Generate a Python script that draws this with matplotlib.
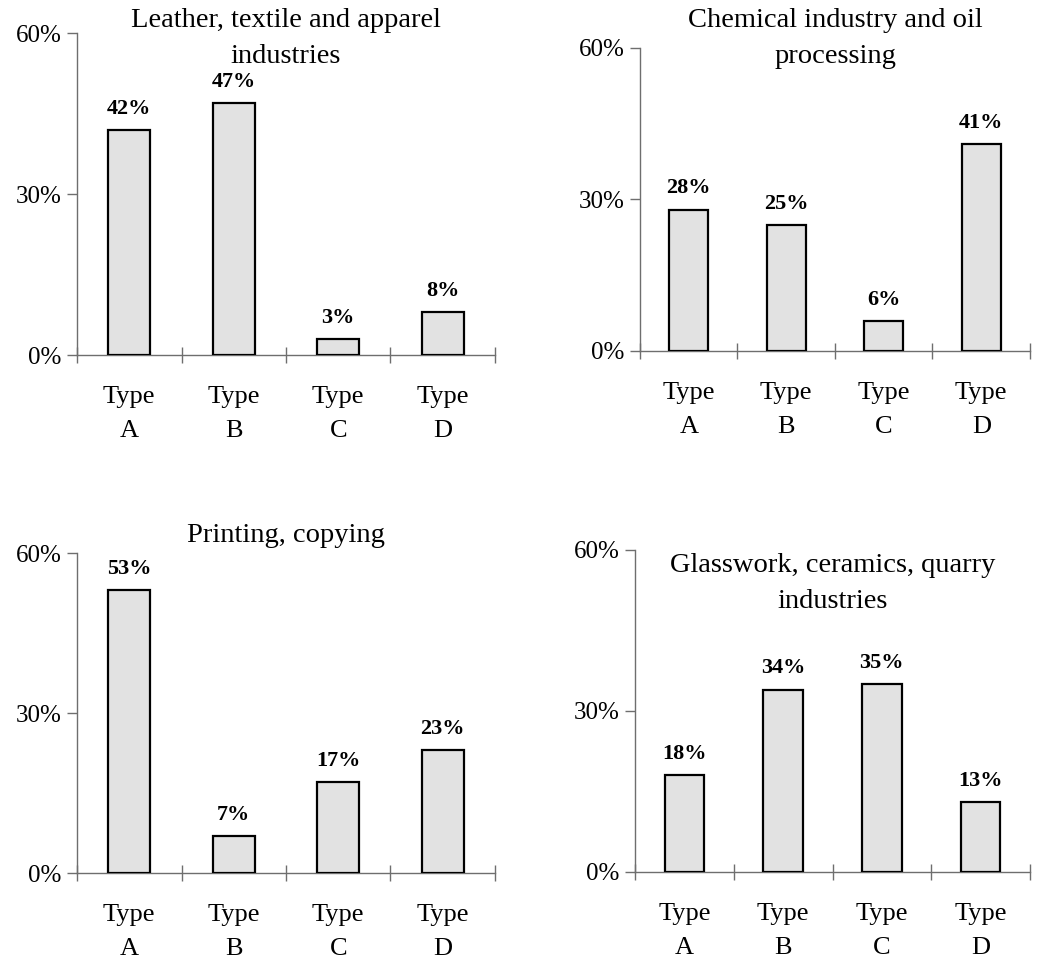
import matplotlib
matplotlib.use("Agg")
import matplotlib.pyplot as plt
import numpy as np

plt.rcParams['font.family'] = ['Liberation Serif', 'DejaVu Serif']

# 各行业按类型的占比（%）
categories = ['Type\nA', 'Type\nB', 'Type\nC', 'Type\nD']
titles = [
    'Leather, textile and apparel\nindustries',
    'Chemical industry and oil\nprocessing',
    'Printing, copying',
    'Glasswork, ceramics, quarry\nindustries',
]
leather = [42, 47, 3, 8]
chemical = [28, 25, 6, 41]
printing = [53, 7, 17, 23]
glasswork = [18, 34, 35, 13]
yticks = [0, 30, 60]
ytick_labels = ['0%', '30%', '60%']

series = [leather, chemical, printing, glasswork]

# 每个子图在画布上的位置 [left, bottom, width, height]
boxes = [
    [0.0731, 0.6302, 0.3965, 0.3354],
    [0.6072, 0.6344, 0.3700, 0.3156],
    [0.0731, 0.0906, 0.3965, 0.3333],
    [0.6025, 0.0917, 0.3747, 0.3354],
]
# 标题中心的纵坐标（画布比例）
title_y = [0.960, 0.960, 0.4427, 0.392]

AXIS_GRAY = '#6e6e6e'
BAR_FILL = '#e2e2e2'

fig = plt.figure(figsize=(10.54, 9.6), dpi=100)

for vals, title, box, ty in zip(series, titles, boxes, title_y):
    ax = fig.add_axes(box)
    x = np.arange(len(categories))
    bars = ax.bar(x, vals, width=0.4, color=BAR_FILL, edgecolor='black', linewidth=1.6, zorder=3)

    for b, v in zip(bars, vals):
        ax.annotate(f'{v}%', (b.get_x() + b.get_width() / 2, v),
                    xytext=(0, 8), textcoords='offset points',
                    ha='center', va='bottom', fontsize=16, fontweight='bold')

    ax.set_xlim(-0.5, len(categories) - 0.5)
    ax.set_ylim(0, 60)

    for s in ['top', 'right']:
        ax.spines[s].set_visible(False)
    for s in ['left', 'bottom']:
        ax.spines[s].set_color(AXIS_GRAY)
        ax.spines[s].set_linewidth(1.0)

    # 分类边界处的刻度线
    ax.set_xticks(np.arange(-0.5, len(categories), 1.0))
    ax.set_xticklabels([])
    ax.tick_params(axis='x', which='major', direction='inout', length=11,
                   width=1.0, color=AXIS_GRAY)
    ax.set_xticks(x, minor=True)
    ax.set_xticklabels(categories, minor=True, fontsize=19, linespacing=1.72)
    ax.tick_params(axis='x', which='minor', length=0, pad=22)

    ax.set_yticks(yticks)
    ax.set_yticklabels(ytick_labels, fontsize=18)
    ax.tick_params(axis='y', direction='out', length=7, width=1.0,
                   color=AXIS_GRAY, pad=4)

    cx = box[0] + box[2] / 2
    fig.text(cx, ty, title, ha='center', va='center', fontsize=20.5, linespacing=1.6)

fig.savefig('out.png', dpi=100)
